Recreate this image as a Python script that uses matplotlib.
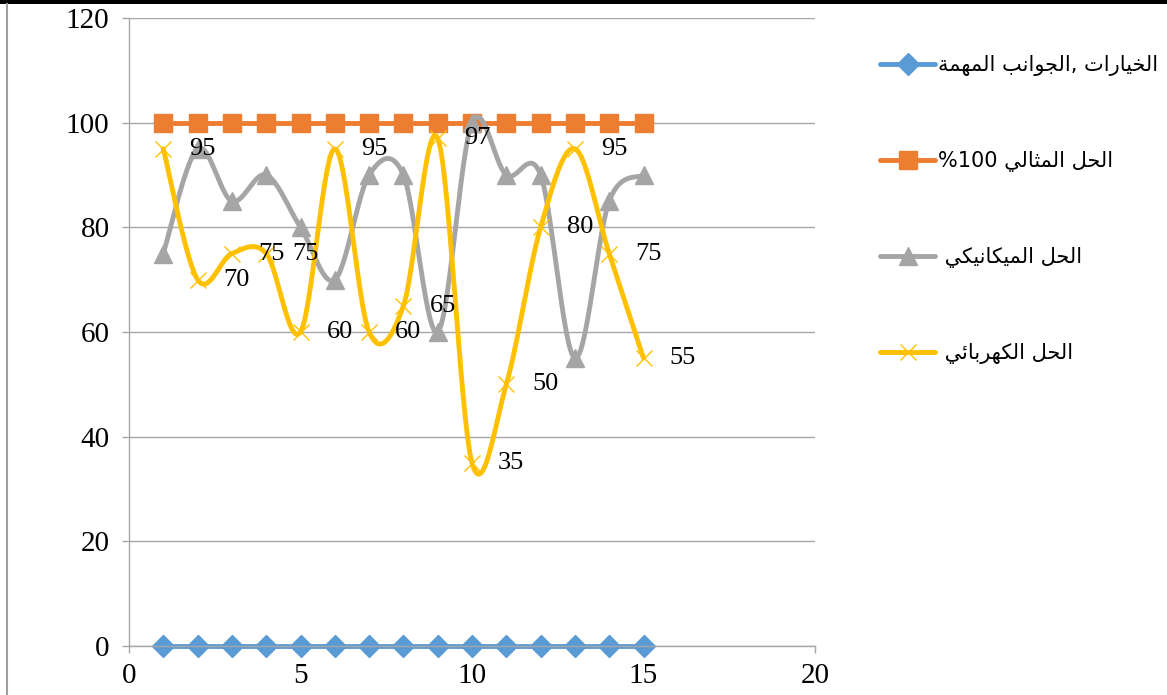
import re
import numpy as np
import matplotlib
matplotlib.use("Agg")
import matplotlib.pyplot as plt
from matplotlib.lines import Line2D
from matplotlib.patches import Rectangle

# ---------------- data ----------------
x_points = [1, 2, 3, 4, 5, 6, 7, 8, 9, 10, 11, 12, 13, 14, 15]
key_aspects = [0, 0, 0, 0, 0, 0, 0, 0, 0, 0, 0, 0, 0, 0, 0]
ideal_solution = [100, 100, 100, 100, 100, 100, 100, 100, 100, 100, 100, 100, 100, 100, 100]
mechanical_solution = [75, 95, 85, 90, 80, 70, 90, 90, 60, 100, 90, 90, 55, 85, 90]
electrical_solution = [95, 70, 75, 75, 60, 95, 60, 65, 97, 35, 50, 80, 95, 75, 55]
series_names = ["الخيارات ,الجوانب المهمة", "الحل المثالي 100%", "الحل الميكانيكي ", "الحل الكهربائي "]
x_ticks = [0, 5, 10, 15, 20]
y_ticks = [0, 20, 40, 60, 80, 100, 120]

# ---------------- Arabic shaping (matplotlib has no shaping) ----------------
FORMS = {
    "\u0627": ("\uFE8D", "\uFE8E", None, None),
    "\u0628": ("\uFE8F", "\uFE90", "\uFE91", "\uFE92"),
    "\u0629": ("\uFE93", "\uFE94", None, None),
    "\u062A": ("\uFE95", "\uFE96", "\uFE97", "\uFE98"),
    "\u062B": ("\uFE99", "\uFE9A", "\uFE9B", "\uFE9C"),
    "\u062C": ("\uFE9D", "\uFE9E", "\uFE9F", "\uFEA0"),
    "\u062D": ("\uFEA1", "\uFEA2", "\uFEA3", "\uFEA4"),
    "\u062E": ("\uFEA5", "\uFEA6", "\uFEA7", "\uFEA8"),
    "\u0631": ("\uFEAD", "\uFEAE", None, None),
    "\u0643": ("\uFED9", "\uFEDA", "\uFEDB", "\uFEDC"),
    "\u0644": ("\uFEDD", "\uFEDE", "\uFEDF", "\uFEE0"),
    "\u0645": ("\uFEE1", "\uFEE2", "\uFEE3", "\uFEE4"),
    "\u0646": ("\uFEE5", "\uFEE6", "\uFEE7", "\uFEE8"),
    "\u0647": ("\uFEE9", "\uFEEA", "\uFEEB", "\uFEEC"),
    "\u0648": ("\uFEED", "\uFEEE", None, None),
    "\u064A": ("\uFEF1", "\uFEF2", "\uFEF3", "\uFEF4"),
    "\u0626": ("\uFE89", "\uFE8A", "\uFE8B", "\uFE8C"),
}


def _dual(c):
    return c in FORMS and FORMS[c][2] is not None


def shape(s):
    out = []
    i, n = 0, len(s)
    while i < n:
        c = s[i]
        if c not in FORMS:
            out.append(c)
            i += 1
            continue
        join_prev = i > 0 and _dual(s[i - 1])
        if c == "\u0644" and i + 1 < n and s[i + 1] == "\u0627":
            out.append("\uFEFC" if join_prev else "\uFEFB")
            i += 2
            continue
        join_next = _dual(c) and i + 1 < n and s[i + 1] in FORMS
        f = FORMS[c]
        if join_prev and join_next:
            g = f[3]
        elif join_prev:
            g = f[1]
        elif join_next:
            g = f[2]
        else:
            g = f[0]
        out.append(g)
        i += 1
    return "".join(out)


def visual(s):
    rev = shape(s)[::-1]
    return re.sub(r"\d+", lambda m: m.group(0)[::-1], rev)


# ---------------- smoothing (Excel-like Catmull-Rom Bezier) ----------------
SEG = 30


def smooth(xs, ys):
    xs = np.asarray(xs, float)
    ys = np.asarray(ys, float)
    n = len(xs)
    px, py = [], []
    t = np.linspace(0, 1, SEG, endpoint=False)
    for i in range(n - 1):
        i0 = max(i - 1, 0)
        i3 = min(i + 2, n - 1)
        p0 = np.array([xs[i], ys[i]])
        p3 = np.array([xs[i + 1], ys[i + 1]])
        c1 = p0 + (p3 - np.array([xs[i0], ys[i0]])) / 6.0
        c2 = p3 - (np.array([xs[i3], ys[i3]]) - p0) / 6.0
        b = ((1 - t) ** 3)[:, None] * p0 + (3 * (1 - t) ** 2 * t)[:, None] * c1 \
            + (3 * (1 - t) * t ** 2)[:, None] * c2 + (t ** 3)[:, None] * p3
        px.extend(b[:, 0])
        py.extend(b[:, 1])
    px.append(xs[-1])
    py.append(ys[-1])
    return np.array(px), np.array(py)


# ---------------- figure ----------------
W, H = 1167, 695
fig = plt.figure(figsize=(W / 100, H / 100), dpi=100)
ax = fig.add_axes([129 / W, (H - 646) / H, (815 - 129) / W, (646 - 18) / H])

grid_c = "#A6A6A6"
ax.set_xlim(0, 20)
ax.set_ylim(0, 120)
ax.set_xticks(x_ticks)
ax.set_yticks(y_ticks)
ax.yaxis.grid(True, color=grid_c, linewidth=1.0)
ax.set_axisbelow(True)
for side in ("top", "right"):
    ax.spines[side].set_visible(False)
for side in ("left", "bottom"):
    ax.spines[side].set_color(grid_c)
    ax.spines[side].set_linewidth(1.0)
ax.tick_params(axis="both", colors=grid_c, length=5, width=1.0, labelcolor="black",
               labelsize=21, pad=9)
ax.tick_params(axis="x", pad=7)
for lab in ax.get_xticklabels() + ax.get_yticklabels():
    lab.set_fontfamily("Liberation Serif")

styles = [
    dict(color="#5B9BD5", marker="D", ms=11, mfc="#5B9BD5", mec="#5B9BD5"),
    dict(color="#ED7D31", marker="s", ms=12.5, mfc="#ED7D31", mec="#ED7D31"),
    dict(color="#A5A5A5", marker="^", ms=13, mfc="#A5A5A5", mec="#A5A5A5"),
    dict(color="#FFC000", marker="x", ms=12, mfc="#FFC000", mec="#FFC000", mew=1.0),
]
all_series = [key_aspects, ideal_solution, mechanical_solution, electrical_solution]
handles = []
for ys, st, name in zip(all_series, styles, series_names):
    sx, sy = smooth(x_points, ys)
    h, = ax.plot(sx, sy, lw=3.5, solid_capstyle="round", markevery=SEG,
                 label=visual(name), clip_on=False, **st)
    handles.append(h)

for xv, yv in zip(x_points, electrical_solution):
    ax.annotate(str(yv), (xv, yv), xytext=(26, 0), textcoords="offset pixels",
                ha="left", va="center", fontsize=19, family="Liberation Serif",
                color="black")

leg = fig.legend(handles=handles, loc="upper left",
                 bbox_to_anchor=(880 / W, 1 - 55 / H), frameon=False,
                 prop={"family": ["DejaVu Sans"], "size": 15},
                 handlelength=2.65, handletextpad=0.15, labelspacing=3.6,
                 borderpad=0, borderaxespad=0)

# chart frame remnants (top black bar, left border)
fig.add_artist(Rectangle((0, 1 - 3.5 / H), 1, 3.5 / H, transform=fig.transFigure,
                         facecolor="black", edgecolor="none"))
fig.add_artist(Line2D([7 / W, 7 / W], [0, 1 - 4 / H], transform=fig.transFigure,
                      color="#A0A0A0", lw=1.5))

fig.savefig("out.png", dpi=100)
